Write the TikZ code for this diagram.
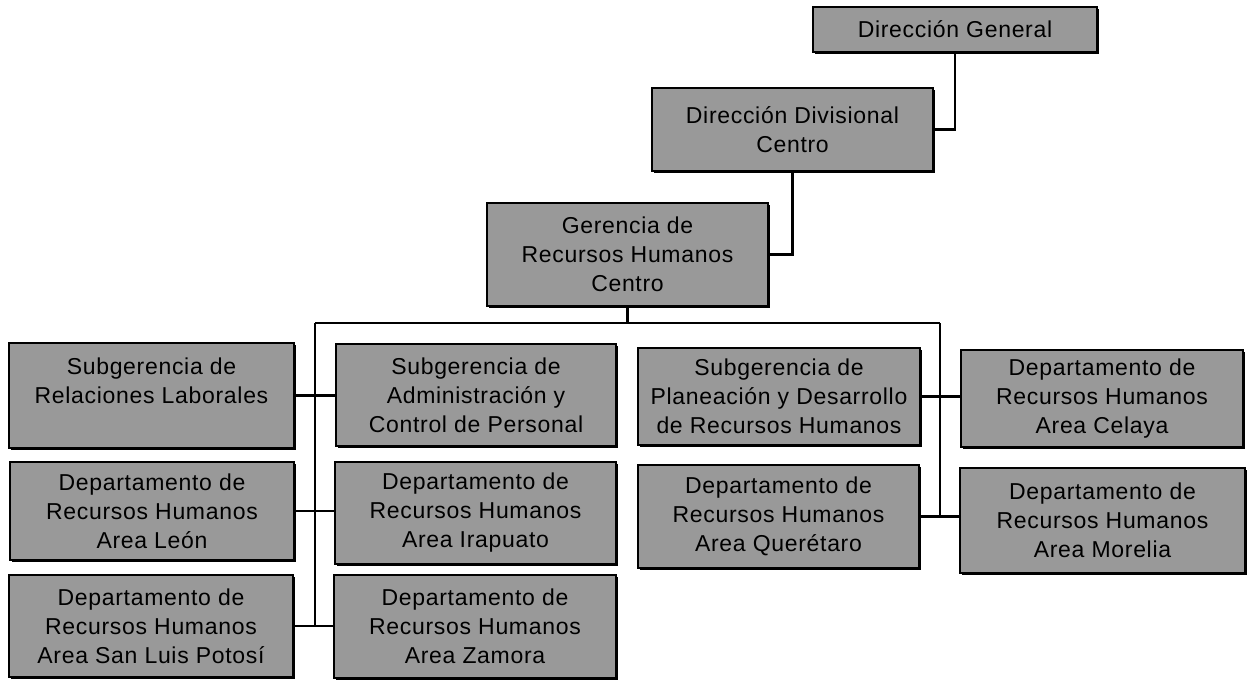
\documentclass[tikz,border=0pt]{standalone}
\usepackage{fontspec}
\setmainfont{Liberation Sans}[LetterSpace=3]
\usetikzlibrary{shadows}
\begin{document}
\begin{tikzpicture}[x=1pt,y=-1pt,
  orgbox/.style={draw=black, line width=2.4pt, fill=black!40, align=center,
    inner sep=2pt, text=black,
    font=\fontsize{23}{29}\selectfont,
    drop shadow={shadow xshift=1.6pt, shadow yshift=-1.6pt, fill=black, opacity=1}},
  link/.style={draw=black, line width=2.4pt}]
\useasboundingbox[fill=white] (0,0) rectangle (1249,680);

\node[orgbox, minimum width=284, minimum height=45] (dg) at (955,29.5) {Dirección General};
\node[orgbox, minimum width=281, minimum height=83] (dd) at (792.5,129.5) {Dirección Divisional\\Centro};
\node[orgbox, minimum width=281, minimum height=103] (ger) at (627.5,254.5) {Gerencia de\\Recursos Humanos\\Centro};

\node[orgbox, minimum width=285, minimum height=105] (srl) at (151.5,395.5) {Subgerencia de\\Relaciones Laborales\\\mbox{}};
\node[orgbox, minimum width=280, minimum height=102] (adm) at (476,395) {Subgerencia de\\Administración y\\Control de Personal};
\node[orgbox, minimum width=282, minimum height=97] (pla) at (779,396.5) {Subgerencia de\\Planeación y Desarrollo\\de Recursos Humanos};
\node[orgbox, minimum width=282, minimum height=97] (cel) at (1102,398.5) {Departamento de\\Recursos Humanos\\Area Celaya};

\node[orgbox, minimum width=284, minimum height=98] (leo) at (152,511) {Departamento de\\Recursos Humanos\\Area León};
\node[orgbox, minimum width=281, minimum height=102] (ira) at (475.5,513) {Departamento de\\Recursos Humanos\\Area Irapuato};
\node[orgbox, minimum width=281, minimum height=103] (que) at (778.5,516.5) {Departamento de\\Recursos Humanos\\Area Querétaro};
\node[orgbox, minimum width=285, minimum height=105] (mor) at (1102.5,520.5) {Departamento de\\Recursos Humanos\\Area Morelia};

\node[orgbox, minimum width=284, minimum height=102] (slp) at (151,626) {Departamento de\\Recursos Humanos\\Area San Luis Potosí};
\node[orgbox, minimum width=282, minimum height=103] (zam) at (475,626.5) {Departamento de\\Recursos Humanos\\Area Zamora};

\coordinate (busL) at (315,323);
\coordinate (busR) at (940,323);

\draw[link] (dg.south) |- (dd.east);
\draw[link] (dd.south) |- (ger.east);
\draw[link] (ger.south) -- (ger.south |- busL);
\draw[link] (busL) -- (busR);
\draw[link] (busL) -- (busL |- slp.east);
\draw[link] (busR) -- (busR |- que.east);

\draw[link] (srl.east) -- (srl.east -| adm.west);
\draw[link] (leo.east) -- (leo.east -| ira.west);
\draw[link] (slp.east) -- (slp.east -| zam.west);
\draw[link] (pla.east) -- (pla.east -| cel.west);
\draw[link] (que.east) -- (que.east -| mor.west);
\end{tikzpicture}
\end{document}
